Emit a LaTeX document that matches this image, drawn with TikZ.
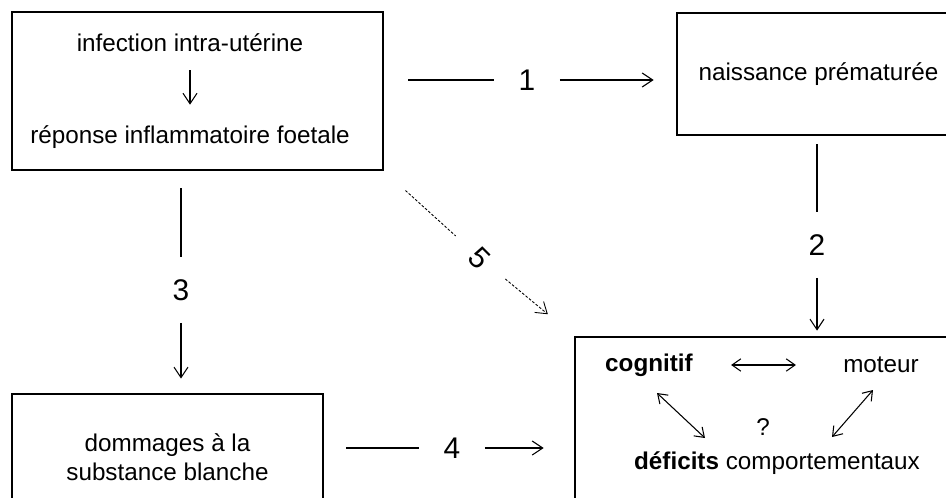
\documentclass[tikz,border=0pt]{standalone}
\usepackage{fontspec}
\setmainfont{Liberation Sans}
\usepackage{tikz}
\usetikzlibrary{arrows.meta, positioning, calc}
\tikzset{
    box/.style={
        rectangle,
        draw=black,
        line width=1.6pt,
        inner sep=0pt,
        align=center,
        font=\fontsize{13.8}{16.5}\selectfont
    },
    txt/.style={
        inner sep=0pt,
        font=\fontsize{13.8}{16.5}\selectfont
    },
    boldtxt/.style={
        txt,
        font=\fontsize{13.8}{16.5}\selectfont\bfseries
    },
    num/.style={
        circle,
        inner sep=0pt,
        minimum size=1.3cm,
        font=\fontsize{17}{20}\selectfont
    },
    link/.style={
        draw=black,
        line width=0.6pt
    },
    arrow/.style={
        link,
        -{Straight Barb[length=6pt,width=8pt]}
    },
    dblarrow/.style={
        link,
        {Straight Barb[length=5pt,width=7pt]}-{Straight Barb[length=5pt,width=7pt]}
    },
    dotlink/.style={
        draw=black,
        line width=0.5pt,
        dash pattern=on 1.5pt off 1pt
    },
    dotarrow/.style={
        dotlink,
        -{Straight Barb[length=6pt,width=8pt]}
    }
}

\begin{document}
\begin{tikzpicture}[x=0.02cm, y=-0.02cm]
\useasboundingbox (0,0) rectangle (946,497);
\clip (0,0) rectangle (946,497);

% Boxes
\node[box, minimum width=7.42cm, minimum height=3.16cm] (infbox) at (197.5,91) {};
\node[box, minimum width=5.66cm, minimum height=2.44cm] (naisbox) at (818.5,74) {naissance prématurée};
\node[box, minimum width=6.22cm, minimum height=2.52cm] (dombox) at (167.5,457) {dommages à la\\substance blanche};
\node[box, minimum width=7.7cm, minimum height=3.66cm] (defbox) at (767.5,428.5) {};

% Box contents
\node[txt] (infect) at (190,43) {infection intra-utérine};
\node[txt] (repon) at (190,137) {réponse inflammatoire foetale};
\node[boldtxt] (cogn) at (649,365) {cognitif};
\node[txt] (motr) at (881,365) {moteur};
\node[txt] (defic) at (777,463) {\textbf{déficits} comportementaux};
\node[txt] (qmark) at (763,427) {?};
\coordinate (cl1) at (657,393);
\coordinate (cl2) at (705,438);
\coordinate (cr1) at (873,390);
\coordinate (cr2) at (832,437);

% Path numbers
\node[num] (n1) at (527,80) {1};
\node[num] (n2) at (817,245) {2};
\node[num] (n3) at (181,290) {3};
\node[num] (n4) at (452,448) {4};
\node[num, rotate=-45] (n5) at (480,258) {5};

% Connections
\draw[arrow, shorten <=0.36cm, shorten >=0.41cm] (infect) -- (repon);
\draw[link, shorten <=0.48cm] (infbox.east |- n1) -- (n1);
\draw[arrow, shorten >=0.44cm] (n1) -- (naisbox.west |- n1);
\draw[link, shorten <=0.16cm] (naisbox.south -| n2) -- (n2);
\draw[arrow, shorten >=0.1cm] (n2) -- (defbox.north -| n2);
\draw[link, shorten <=0.34cm] (infbox.south -| n3) -- (n3);
\draw[arrow, shorten >=0.28cm] (n3) -- (dombox.north -| n3);
\draw[link, shorten <=0.44cm] (dombox.east |- n4) -- (n4);
\draw[arrow, shorten >=0.6cm] (n4) -- (defbox.west |- n4);
\draw[dotlink, shorten <=0.57cm] (infbox.south east) -- (n5);
\draw[dotarrow, shorten >=0.67cm] (n5) -- (defbox.north west);

% Inside the outcome box
\draw[dblarrow, shorten <=0.76cm, shorten >=0.94cm] (cogn) -- (motr);
\draw[dblarrow] (cl1) -- (cl2);
\draw[dblarrow] (cr1) -- (cr2);

\end{tikzpicture}
\end{document}
